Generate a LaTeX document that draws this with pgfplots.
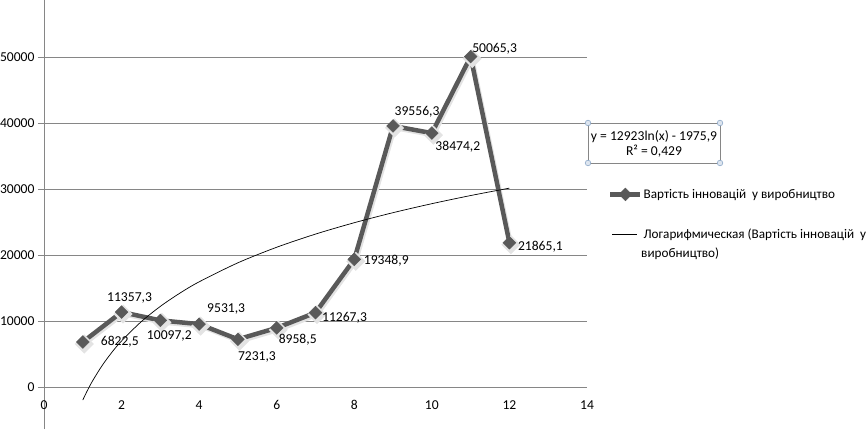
\documentclass[border=0pt]{standalone}
\usepackage{fontspec}
\setmainfont{Carlito}
\usepackage{pgfplots}
\pgfplotsset{compat=1.18}
\usepackage{pgfplotstable}
\definecolor{ser}{HTML}{595959}
\definecolor{gridc}{HTML}{868686}
\definecolor{handle}{HTML}{8DA9C9}
\newcommand{\fnt}{\fontsize{13.6}{17}\selectfont}
\newcommand{\lfnt}{\fontsize{13.2}{17}\selectfont}

\pgfplotstableread{
x y lab dx dy
1 6822.5 6822,5 37 0
2 11357.3 11357,3 8 14
3 10097.2 10097,2 9 -16
4 9531.3 9531,3 27 15
5 7231.3 7231,3 19 -18
6 8958.5 8958,5 21 -12
7 11267.3 11267,3 29 -5
8 19348.9 19348,9 32 -1
9 39556.3 39556,3 24 14
10 38474.2 38474,2 26 -14
11 50065.3 50065,3 24 8
12 21865.1 21865,1 31 -4
}\datatable

\pgfplotstableread{
x y
1 -1975.9
1.1 -744
1.25 908
1.5 3264
1.75 5256
2 6982
2.5 9865
3 12222
3.5 14213
4 15939
5 18823
6 21179
7 23171
8 24897
9 26419
10 27780
11 29012
12 30136
}\trendtable

\begin{document}
\begin{tikzpicture}
\begin{axis}[
  at={(0pt,0pt)}, anchor=south west,
  scale only axis, width=543pt, height=429pt,
  xmin=0, xmax=14, ymin=-6360, ymax=58640,
  axis x line=middle, axis y line=left,
  axis line style={draw=gridc, line width=0.8pt, -},
  hide obscured x ticks=false,
  scaled y ticks=false,
  xtick={0,2,...,14}, ytick={0,10000,...,50000},
  ymajorgrids, grid style={draw=gridc, line width=0.8pt},
  tick align=outside, major tick length=6pt,
  ytick style={draw=gridc, line width=0.8pt},
  xtick style={draw=none},
  /pgf/number format/assume math mode=true,
  /pgf/number format/set thousands separator={},
  every tick label/.append style={font=\fnt, text=black},
  xticklabel style={yshift=-4pt},
  legend cell align=left,
  legend style={draw=none, fill=none, font=\lfnt,
    at={(axis description cs:1.0331,0.569)}, anchor=north west,
    row sep=25pt, nodes={inner xsep=1pt}},
  clip=false,
]
\addplot[gray!22, line width=4.5pt, xshift=1.5pt, yshift=-2pt, forget plot,
  mark=square*, mark size=4.5pt, mark options={rotate=45, draw=gray!22, fill=gray!22}]
  table[x=x, y=y] {\datatable};
\addplot[ser, line width=4.5pt, mark=square*, mark size=4.5pt,
  mark options={rotate=45, fill=ser, draw=ser, line width=0.5pt},
  point meta=explicit symbolic,
  visualization depends on={\thisrow{dx}\as\labdx},
  visualization depends on={\thisrow{dy}\as\labdy},
  nodes near coords,
  nodes near coords style={font=\fnt, text=black, anchor=center,
    xshift=\labdx pt, yshift=\labdy pt},
  legend image code/.code={\draw[mark repeat=2, mark phase=2]
    plot coordinates {(0pt,0pt) (15pt,0pt) (30pt,0pt)};}]
  table[x=x, y=y, meta=lab] {\datatable};
\addlegendentry{Вартість інновацій~ у виробництво}
\addplot[black, line width=0.7pt, smooth, no marks,
  legend image code/.code={\draw (2pt,0pt) -- (27pt,0pt);}]
  table[x=x, y=y] {\trendtable};
\addlegendentry{Логарифмическая (Вартість інновацій~ у}
\end{axis}
\node[anchor=west, font=\lfnt, inner sep=0pt] at (597pt,175pt) {виробництво)};
% equation box
\draw[gridc, line width=0.8pt] (544pt,266pt) rectangle (676pt,306pt);
\node[font=\fnt, align=center, inner sep=0pt] at (610pt,285pt)
  {y = 12923ln(x) - 1975,9\\[-2pt]R² = 0,429};
\foreach \p in {(544pt,266pt),(676pt,266pt),(544pt,306pt),(676pt,306pt)}
  \draw[handle, fill=handle!30, line width=0.6pt] \p circle (2.8pt);
\pgfresetboundingbox
\path (-44pt,0pt) rectangle (824pt,429pt);
\end{tikzpicture}
\end{document}
